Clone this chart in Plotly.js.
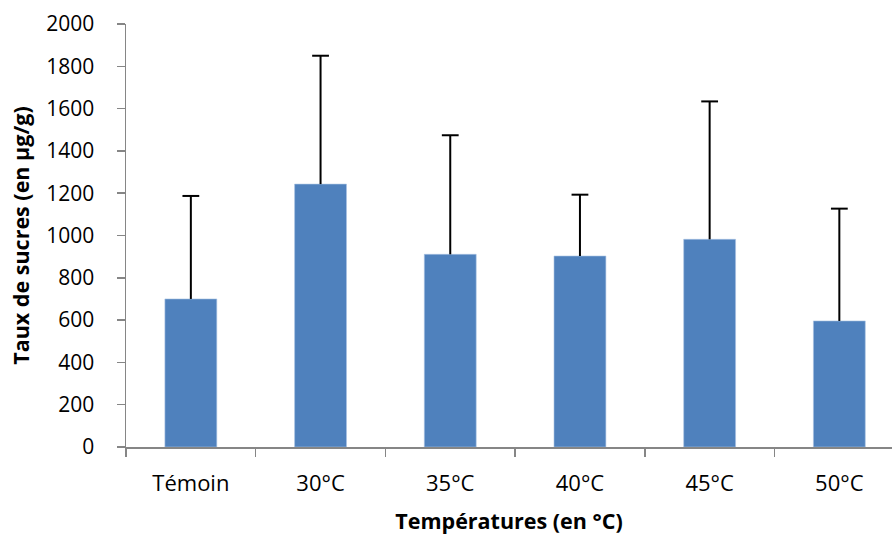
<!DOCTYPE html>
<html>
<head>
<meta charset="utf-8">
<script src="https://cdn.plot.ly/plotly-3.0.1.min.js"></script>
<style>html,body{margin:0;padding:0;background:#fff;}#chart{width:892px;height:535px;}</style>
</head>
<body>
<div id="chart"></div>
<script>
const categories = ["Témoin", "30°C", "35°C", "40°C", "45°C", "50°C"];
const sugarValues = [700, 1243, 911, 903, 982, 596];
const errorPlus = [487, 607, 563, 290, 652, 531];
const yTickValues = [0, 200, 400, 600, 800, 1000, 1200, 1400, 1600, 1800, 2000];

const tops = sugarValues.map((v, i) => v + errorPlus[i]);

const font = "Open Sans, Liberation Sans, sans-serif";

const data = [
  {
    type: "bar",
    x: categories,
    y: sugarValues,
    width: 0.4,
    marker: { color: "#4F81BD", line: { color: "#A9C2E3", width: 0.6 } },
    error_y: {
      type: "data",
      symmetric: false,
      array: errorPlus,
      arrayminus: sugarValues.map(() => 0),
      color: "#000000",
      thickness: 2,
      width: 0
    },
    hoverinfo: "x+y",
    showlegend: false
  },
  {
    type: "scatter",
    mode: "markers",
    x: categories,
    y: tops,
    marker: { symbol: "line-ew", size: 12, line: { color: "#000000", width: 2 } },
    hoverinfo: "skip",
    showlegend: false
  }
];

const layout = {
  width: 892,
  height: 535,
  margin: { l: 126, r: 0, t: 24, b: 88 },
  paper_bgcolor: "#ffffff",
  plot_bgcolor: "#ffffff",
  font: { family: font, color: "#000000", size: 21 },
  bargap: 0.6,
  xaxis: {
    type: "category",
    range: [-0.5, 5.406],
    tickson: "boundaries",
    ticks: "outside",
    ticklen: 8,
    tickcolor: "#868686",
    tickwidth: 1.5,
    showline: true,
    linecolor: "#868686",
    linewidth: 1.5,
    showgrid: false,
    zeroline: false,
    tickfont: { family: font, size: 22 },
    ticklabelstandoff: 16,
    title: { text: "<b>Températures (en °C)</b>", font: { family: font, size: 21.5 }, standoff: 18 },
    fixedrange: true
  },
  yaxis: {
    range: [0, 2000],
    tickvals: yTickValues,
    ticktext: yTickValues.map(String),
    ticks: "outside",
    ticklen: 8,
    tickcolor: "#868686",
    tickwidth: 1.5,
    showline: true,
    linecolor: "#868686",
    linewidth: 1.5,
    showgrid: false,
    zeroline: false,
    tickfont: { family: font, size: 21 },
    ticklabelstandoff: 18,
    title: { text: "<b>Taux de sucres (en µg/g)</b>", font: { family: font, size: 21.5 }, standoff: 10 },
    fixedrange: true
  }
};

Plotly.newPlot("chart", data, layout, { displayModeBar: false, staticPlot: true });
</script>
</body>
</html>
